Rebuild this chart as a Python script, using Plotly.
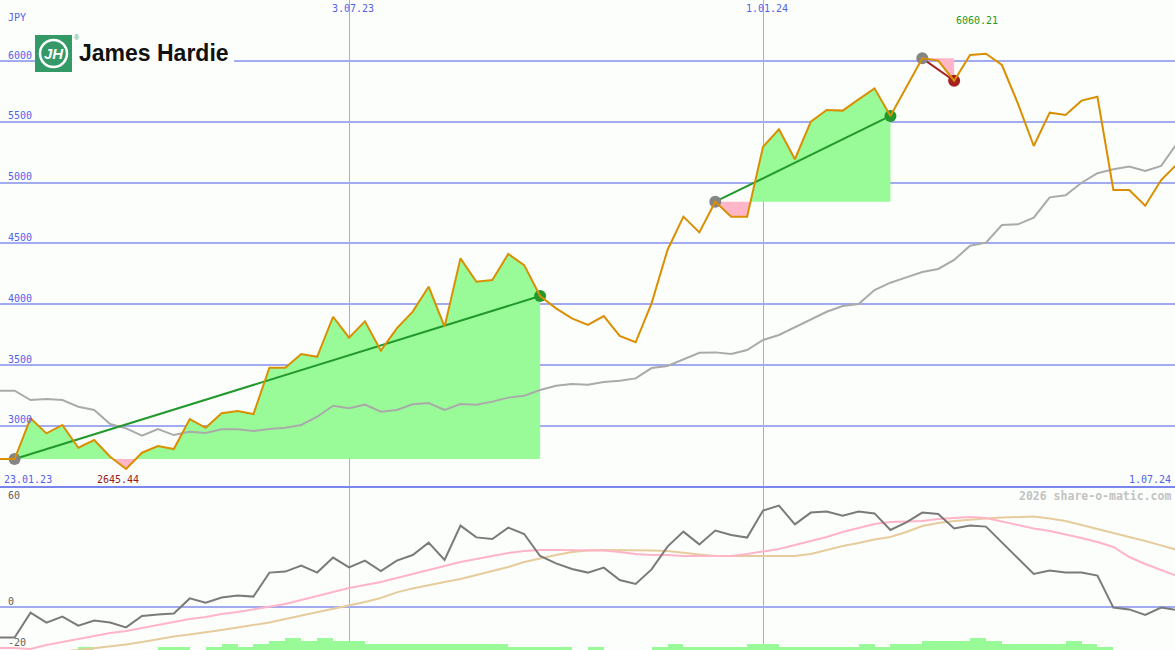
import plotly.graph_objects as go

W, H = 1175, 650
MONO = "DejaVu Sans Mono"

# ---------------- data (weekly points, week 0 = 6 Feb 2023) ----------------
weeks = list(range(-1, 74))

price = [2727, 2727, 3062, 2938, 3007, 2820, 2883, 2746, 2645.44, 2779,
         2834, 2809, 3056, 2984, 3103, 3122, 3097, 3478, 3478, 3590,
         3568, 3897, 3725, 3859, 3618, 3802, 3939, 4144, 3815, 4377,
         4185, 4199, 4413, 4322, 4067, 3966, 3884, 3830, 3903, 3739,
         3687, 4007, 4446, 4720, 4591, 4843, 4720, 4720, 5295, 5438,
         5192, 5501, 5597, 5592, 5685, 5775, 5548, 5785, 6022, 6003,
         5838, 6049, 6060.21, 5967, 5652, 5301, 5575, 5556, 5674, 5706,
         4939, 4939, 4810, 5021, 5153]

ma = [3289, 3289, 3212, 3220, 3212, 3157, 3130, 3015, 2979, 2919,
      2974, 2924, 2952, 2941, 2971, 2971, 2957, 2974, 2984, 3007,
      3075, 3165, 3144, 3174, 3116, 3130, 3177, 3188, 3130, 3179,
      3174, 3199, 3232, 3248, 3294, 3330, 3344, 3338, 3360, 3370,
      3390, 3475, 3492, 3547, 3601, 3604, 3590, 3623, 3706, 3747,
      3810, 3870, 3938, 3985, 4002, 4117, 4177, 4221, 4265, 4290,
      4364, 4481, 4506, 4651, 4657, 4712, 4879, 4896, 4999, 5077,
      5110, 5132, 5095, 5137, 5323]

osc = [-15.3, -15.3, -2.8, -7.8, -4.8, -9.3, -6.8, -7.8, -10.2, -4.5,
       -3.7, -3.2, 4.3, 2.2, 4.7, 5.7, 5.2, 17.2, 17.7, 20.7,
       17.2, 24.7, 19.8, 23.2, 18, 23.2, 26, 32.2, 23.5, 40.7,
       34.8, 34, 39.7, 36.5, 25.5, 21.8, 19, 17.2, 19.7, 13.5,
       11.5, 18.8, 30.2, 37.7, 31.3, 38.2, 36, 34.7, 48.2, 50.7,
       41.3, 47.2, 47.7, 45.7, 47.7, 46.8, 38.5, 42.3, 47.2, 46.5,
       39.3, 40.7, 40.2, 32.3, 24.8, 16.5, 18.2, 17.2, 17.2, 15.7,
       -0.3, -1.2, -4, -0.3, -1.5]

osc_fast = [-20.5, -20.5, -21, -19, -17.5, -16, -14.5, -13, -12, -10.5,
            -9, -7.5, -6, -5, -3.5, -2.5, -1.2, 0, 1.5, 3.5,
            5.5, 7.5, 9.5, 11, 12.5, 14.5, 16.5, 18.5, 20.5, 22.5,
            24, 25.5, 27, 28, 28.5, 28.5, 28.3, 28.3, 28.2, 27.5,
            26.5, 26, 26, 25.5, 25.5, 25.5, 25.5, 26.5, 27.7, 29,
            31, 33, 35, 37.5, 39.5, 41.5, 42.5, 42.8, 43, 44,
            44.5, 45, 44.5, 42.7, 41, 39.3, 38, 36.3, 34.5, 32.5,
            30, 25, 21.5, 18.5, 15.5]

osc_slow = [-26, -25, -24, -23, -22.2, -21.5, -20.7, -19.8, -18.8, -17.5,
            -16, -14.8, -13.8, -12.8, -11.5, -10.3, -9, -7.7, -6, -4.3,
            -2.7, -0.7, 1, 2.5, 4.5, 7.3, 9.3, 11, 12.5, 14,
            16, 18, 20, 22.5, 24.3, 26, 27.5, 28.3, 28.5, 28.5,
            28.3, 28.3, 28, 27, 26.2, 25.5, 25.5, 25.5, 25.5, 25.5,
            25.5, 26.5, 28.5, 30.5, 32, 33.7, 35, 37.5, 40.5, 42,
            43, 43.7, 44.2, 44.7, 45, 45.2, 44.3, 43, 41, 39,
            37.3, 35, 33, 30.8, 28.5]

vol_level = [0, 0, 0, 0, 0, 1, 0, 0, 0, 0,
             1, 1, 0, 1, 2, 1, 2, 3, 4, 3,
             4, 3, 3, 2, 2, 2, 2, 2, 2, 2,
             2, 2, 1, 1, 1, 1, 0, 1, 0, 0,
             0, 1, 2, 1, 1, 1, 1, 2, 2, 1,
             1, 1, 1, 1, 2, 1, 2, 2, 3, 3,
             3, 4, 3, 2, 2, 2, 2, 3, 2, 1,
             0, 0, 0, 0, 0]

price_ticks = [3000, 3500, 4000, 4500, 5000, 5500, 6000]
osc_ticks = [60, 0, -20]
date_tick_weeks = [21, 47]
date_tick_labels = ["3.07.23", "1.01.24"]
start_label = "23.01.23"
end_label = "1.07.24"
currency = "JPY"
company = "James Hardie"
trends = [(0, 33), (44, 55), (57, 59)]   # (start week, end week)

# ---------------- styling ----------------
X_RANGE = [-0.917, 72.87]
Y_RANGE = [2497, 6501.6]
Y2_RANGE = [-21.5, 60]
SPLIT = 487
BG = "#fcfefc"
GRID = "#a3abf0"
BLUE = "#5262ea"
ORANGE = "#d98f00"
GREEN_FILL = "#98fb98"
PINK_FILL = "#ffb6c8"
UP = "#22992a"
DOWN = "#a52020"


def idx(k):
    return weeks.index(k)


fig = go.Figure()

# volume-like bars in lower panel
bx = [k + 0.5 for k, l in zip(weeks, vol_level) if l > 0]
by = [l * 1.5 for l in vol_level if l > 0]
fig.add_trace(go.Bar(x=bx, y=by, base=Y2_RANGE[0], width=1.0, xaxis="x2", yaxis="y2",
                     marker=dict(color=GREEN_FILL, line=dict(width=0)),
                     showlegend=False, hoverinfo="skip"))

# trend fills
for s, e in trends:
    base = price[idx(s)]
    xs, vs = [], []
    for k in range(s, e + 1):
        v = price[idx(k)]
        if xs:
            pv = vs[-1]
            if (pv - base) * (v - base) < 0:
                t = (base - pv) / (v - pv)
                xs.append(k - 1 + t)
                vs.append(base)
        xs.append(k)
        vs.append(v)
    ups = [max(v, base) for v in vs]
    dns = [min(v, base) for v in vs]
    for arr, col in ((ups, GREEN_FILL), (dns, PINK_FILL)):
        fig.add_trace(go.Scatter(x=xs, y=[base] * len(xs), mode="lines",
                                 line=dict(width=0), showlegend=False, hoverinfo="skip"))
        fig.add_trace(go.Scatter(x=xs, y=arr, mode="lines", line=dict(width=0),
                                 fill="tonexty", fillcolor=col,
                                 showlegend=False, hoverinfo="skip"))

# moving average
fig.add_trace(go.Scatter(x=weeks, y=ma, mode="lines", line=dict(color="#aaaaaa", width=2),
                         showlegend=False, hoverinfo="skip"))

# trend lines and markers
for s, e in trends:
    p0, p1 = price[idx(s)], price[idx(e)]
    col = UP if p1 >= p0 else DOWN
    fig.add_trace(go.Scatter(x=[s, e], y=[p0, p1], mode="lines",
                             line=dict(color=col, width=2), showlegend=False, hoverinfo="skip"))
    fig.add_trace(go.Scatter(x=[s], y=[p0], mode="markers",
                             marker=dict(color="#858585", size=12, line=dict(width=0)),
                             showlegend=False, hoverinfo="skip"))
    fig.add_trace(go.Scatter(x=[e], y=[p1], mode="markers",
                             marker=dict(color=col, size=12, line=dict(width=0)),
                             showlegend=False, hoverinfo="skip"))

# price
fig.add_trace(go.Scatter(x=weeks, y=price, mode="lines", line=dict(color=ORANGE, width=2),
                         showlegend=False, hoverinfo="skip"))

# lower panel lines
fig.add_trace(go.Scatter(x=weeks, y=osc_slow, mode="lines", xaxis="x2", yaxis="y2",
                         line=dict(color="#e6cc9c", width=2), showlegend=False, hoverinfo="skip"))
fig.add_trace(go.Scatter(x=weeks, y=osc_fast, mode="lines", xaxis="x2", yaxis="y2",
                         line=dict(color="#ffb4c8", width=2), showlegend=False, hoverinfo="skip"))
fig.add_trace(go.Scatter(x=weeks, y=osc, mode="lines", xaxis="x2", yaxis="y2",
                         line=dict(color="#7a7a7a", width=2), showlegend=False, hoverinfo="skip"))

dom_split = 1 - SPLIT / H


def px_x(p):
    return p / W


def px_y(p):
    return 1 - p / H


ann = []
# price tick labels
for v in price_ticks:
    ann.append(dict(text=str(v), xref="paper", x=px_x(6), yref="y", y=v, yshift=6,
                    xanchor="left", yanchor="middle", showarrow=False,
                    font=dict(family=MONO, size=10, color=BLUE)))
ann.append(dict(text=currency, xref="paper", x=px_x(6), yref="paper", y=px_y(18),
                xanchor="left", yanchor="middle", showarrow=False,
                font=dict(family=MONO, size=10, color=BLUE)))
# oscillator labels
for v, sh in zip(osc_ticks, [-8, 6, 5]):
    ann.append(dict(text=str(v), xref="paper", x=px_x(6), yref="y2", y=v, yshift=sh,
                    xanchor="left", yanchor="middle", showarrow=False,
                    font=dict(family=MONO, size=10, color="#606060")))
# date labels
for k, lab in zip(date_tick_weeks, date_tick_labels):
    ann.append(dict(text=lab, xref="x", x=k, xshift=4, yref="paper", y=px_y(8),
                    xanchor="center", yanchor="middle", showarrow=False,
                    font=dict(family=MONO, size=10, color=BLUE)))
ann.append(dict(text=start_label, xref="paper", x=px_x(2), yref="paper", y=px_y(479),
                xanchor="left", yanchor="middle", showarrow=False,
                font=dict(family=MONO, size=10, color=BLUE)))
ann.append(dict(text=end_label, xref="paper", x=px_x(1173), yref="paper", y=px_y(479),
                xanchor="right", yanchor="middle", showarrow=False,
                font=dict(family=MONO, size=10, color=BLUE)))
# min / max
pmin = min(price)
pmax = max(price)
kmin = weeks[price.index(pmin)]
kmax = weeks[price.index(pmax)]
ann.append(dict(text=f"{pmin:.2f}", xref="x", x=kmin, xshift=-8, yref="paper", y=px_y(479),
                xanchor="center", yanchor="middle", showarrow=False,
                font=dict(family=MONO, size=10, color="#a01818")))
ann.append(dict(text=f"{pmax:.2f}", xref="x", x=kmax, xshift=-9, yref="paper", y=px_y(21),
                xanchor="center", yanchor="middle", showarrow=False,
                font=dict(family=MONO, size=10, color="#1f9a1f")))
# watermark
ann.append(dict(text="<b>2026 share-o-matic.com</b>", xref="paper", x=px_x(1173), yref="paper",
                y=px_y(496), xanchor="right", yanchor="middle", showarrow=False,
                font=dict(family=MONO, size=11.5, color="#c2c2c2")))
# logo text
ann.append(dict(text="<b>" + company + "</b>", xref="paper", x=px_x(77), yref="paper",
                y=px_y(53), xanchor="left", yanchor="middle", showarrow=False,
                font=dict(family="Liberation Sans", size=23, color="#111111")))
ann.append(dict(text="<b><i>JH</i></b>", xref="paper", x=px_x(53.5), yref="paper",
                y=px_y(54), xanchor="center", yanchor="middle", showarrow=False,
                font=dict(family="Liberation Sans", size=15, color="white")))
ann.append(dict(text="®", xref="paper", x=px_x(77), yref="paper", y=px_y(38),
                xanchor="center", yanchor="middle", showarrow=False,
                font=dict(family="Liberation Sans", size=7, color="#339966")))

shapes = [
    dict(type="line", xref="paper", yref="paper", x0=0, x1=1, y0=dom_split, y1=dom_split,
         line=dict(color="#7a86ee", width=2)),
    dict(type="rect", xref="paper", yref="paper", x0=px_x(35), x1=px_x(234),
         y0=px_y(72), y1=px_y(35), fillcolor=BG, line=dict(width=0)),
    dict(type="rect", xref="paper", yref="paper", x0=px_x(35), x1=px_x(72),
         y0=px_y(72), y1=px_y(35), fillcolor="#339966", line=dict(width=0)),
    dict(type="circle", xref="paper", yref="paper", x0=px_x(40), x1=px_x(67),
         y0=px_y(67), y1=px_y(40), line=dict(color="white", width=2.5)),
]

fig.update_layout(
    width=W, height=H, autosize=False,
    margin=dict(l=0, r=0, t=0, b=0, pad=0),
    paper_bgcolor=BG, plot_bgcolor=BG,
    showlegend=False, bargap=0,
    xaxis=dict(domain=[0, 1], range=X_RANGE, anchor="y", tickvals=date_tick_weeks,
               showticklabels=False, showgrid=True, gridcolor=GRID, gridwidth=1,
               zeroline=False, showline=False, ticks=""),
    xaxis2=dict(domain=[0, 1], range=X_RANGE, anchor="y2", matches="x", tickvals=date_tick_weeks,
                showticklabels=False, showgrid=True, gridcolor=GRID, gridwidth=1,
                zeroline=False, showline=False, ticks=""),
    yaxis=dict(domain=[dom_split, 1], range=Y_RANGE, tickvals=price_ticks,
               showticklabels=False, showgrid=True, gridcolor=GRID, gridwidth=2,
               zeroline=False, showline=False, ticks=""),
    yaxis2=dict(domain=[0, dom_split], range=Y2_RANGE, tickvals=[0],
                showticklabels=False, showgrid=True, gridcolor=GRID, gridwidth=2,
                zeroline=False, showline=False, ticks=""),
    annotations=ann, shapes=shapes,
)

fig.write_html("out.html", config={"displayModeBar": False},
               post_script="document.body.style.margin='0';document.body.style.overflow='hidden';"
                           "document.body.style.background='" + BG + "';")
